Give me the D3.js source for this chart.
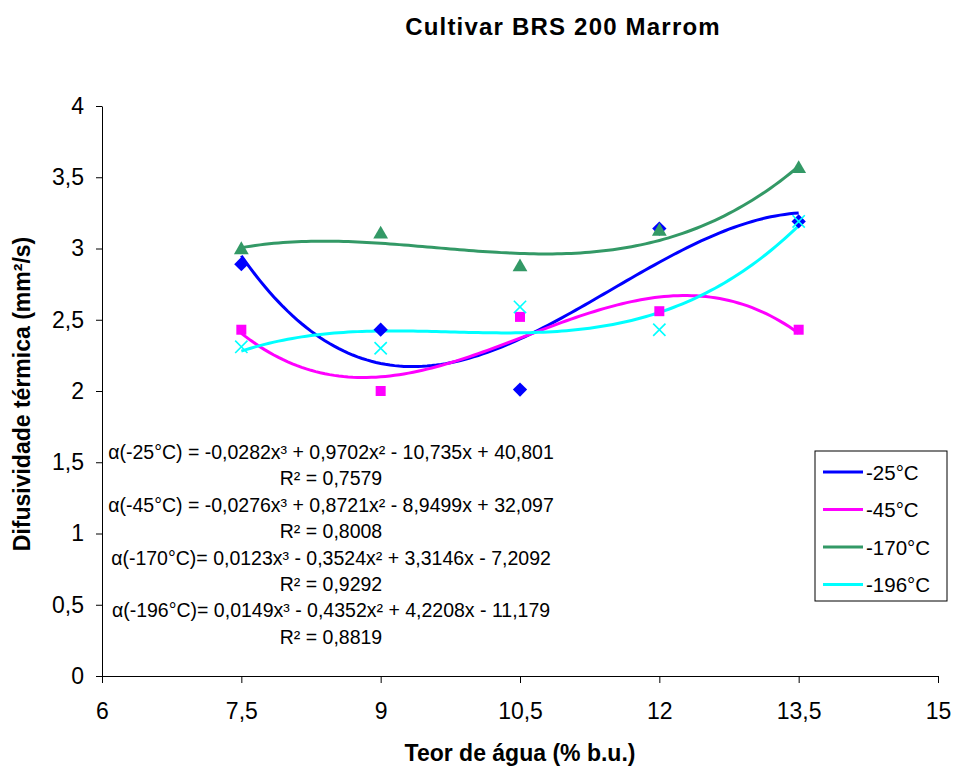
<!DOCTYPE html>
<html>
<head>
<meta charset="utf-8">
<script src="https://cdn.jsdelivr.net/npm/d3@7"></script>
<style>
  body { margin: 0; background: #fff; }
  text { font-family: "Liberation Sans", Arial, sans-serif; fill: #000; }
</style>
</head>
<body>
<div id="chart"></div>
<script>
var width = 953,
    height = 766;

// moisture content (% b.u.)
var teor = [7.5, 9, 10.5, 12, 13.5];

// thermal diffusivity readings per temperature
var serie25 = [2.89, 2.43, 2.01, 3.14, 3.19];
var serie45 = [2.43, 2.00, 2.52, 2.56, 2.43];
var serie170 = [2.99, 3.10, 2.87, 3.12, 3.56];
var serie196 = [2.31, 2.30, 2.59, 2.43, 3.19];

var nomes = ["-25°C", "-45°C", "-170°C", "-196°C"];
var xTicks = [6, 7.5, 9, 10.5, 12, 13.5, 15];
var yTicks = [0, 0.5, 1, 1.5, 2, 2.5, 3, 3.5, 4];

var equacoes = [
  "α(-25°C) = -0,0282x³ + 0,9702x² - 10,735x + 40,801", "R² = 0,7579",
  "α(-45°C) = -0,0276x³ + 0,8721x² - 8,9499x + 32,097", "R² = 0,8008",
  "α(-170°C)= 0,0123x³ - 0,3524x² + 3,3146x - 7,2092", "R² = 0,9292",
  "α(-196°C)= 0,0149x³ - 0,4352x² + 4,2208x - 11,179", "R² = 0,8819"
];

var series = [
  {nome: nomes[0], vals: serie25, cor: "#0000ff", sym: d3.symbolDiamond2, size: 130},
  {nome: nomes[1], vals: serie45, cor: "#ff00ff", sym: d3.symbolSquare, size: 100},
  {nome: nomes[2], vals: serie170, cor: "#339966", sym: d3.symbolTriangle, size: 95},
  {nome: nomes[3], vals: serie196, cor: "#00ffff", sym: d3.symbolX, size: 100}
];

var x = d3.scaleLinear().domain([6, 15]).range([102, 938]);
var y = d3.scaleLinear().domain([0, 4]).range([676, 106]);

var fmt = function(d) { return String(d).replace(".", ","); };

var svg = d3.select("#chart").append("svg")
  .attr("width", width)
  .attr("height", height);

// axes
svg.append("g")
  .attr("transform", "translate(0,676)")
  .call(d3.axisBottom(x).tickValues(xTicks).tickFormat(fmt).tickSize(7).tickSizeOuter(0).tickPadding(20))
  .call(function(g) {
    g.selectAll("text").style("font-size", "23px").attr("fill", "#000");
    g.selectAll("line, path").attr("stroke", "#000");
  });

svg.append("g")
  .attr("transform", "translate(102,0)")
  .call(d3.axisLeft(y).tickValues(yTicks).tickFormat(fmt).tickSize(6).tickSizeOuter(0).tickPadding(12))
  .call(function(g) {
    g.selectAll("text").style("font-size", "23px").attr("fill", "#000");
    g.selectAll("line, path").attr("stroke", "#000");
  });

// cubic least-squares trendline (same as the spreadsheet's polynomial fit)
function ajusteCubico(xv, yv) {
  var n = 4, A = [], i, j, k;
  for (i = 0; i < n; i++) {
    A.push([]);
    for (j = 0; j < n; j++) A[i].push(d3.sum(xv, function(v) { return Math.pow(v, i + j); }));
    A[i].push(d3.sum(xv, function(v, k2) { return Math.pow(v, i) * yv[k2]; }));
  }
  for (i = 0; i < n; i++) {
    var p = i;
    for (k = i + 1; k < n; k++) if (Math.abs(A[k][i]) > Math.abs(A[p][i])) p = k;
    var t = A[i]; A[i] = A[p]; A[p] = t;
    for (k = i + 1; k < n; k++) {
      var f = A[k][i] / A[i][i];
      for (j = i; j <= n; j++) A[k][j] -= f * A[i][j];
    }
  }
  var c = [0, 0, 0, 0];
  for (i = n - 1; i >= 0; i--) {
    var s = A[i][n];
    for (j = i + 1; j < n; j++) s -= A[i][j] * c[j];
    c[i] = s / A[i][i];
  }
  return function(v) { return c[0] + c[1]*v + c[2]*v*v + c[3]*v*v*v; };
}

var line = d3.line().x(function(d) { return x(d[0]); }).y(function(d) { return y(d[1]); });
var xs = d3.range(7.5, 13.5001, 0.05);

series.forEach(function(s) {
  var fit = ajusteCubico(teor, s.vals);
  svg.append("path")
    .attr("d", line(xs.map(function(v) { return [v, fit(v)]; })))
    .attr("fill", "none")
    .attr("stroke", s.cor)
    .attr("stroke-width", 3);
});

// points
series.forEach(function(s) {
  var sym = d3.symbol().type(s.sym).size(s.size);
  svg.append("g").selectAll("path")
    .data(s.vals)
    .join("path")
    .attr("transform", function(d, i) { return "translate(" + x(teor[i]) + "," + y(d) + ")"; })
    .attr("d", sym)
    .attr("fill", s.sym === d3.symbolX ? "none" : s.cor)
    .attr("stroke", s.sym === d3.symbolX ? s.cor : "none")
    .attr("stroke-width", 1.6);
});

// equations
svg.append("g").selectAll("text")
  .data(equacoes)
  .join("text")
  .attr("x", 331)
  .attr("y", function(d, i) { return 459 + i*26.4; })
  .attr("text-anchor", "middle")
  .style("font-size", "19.5px")
  .text(function(d) { return d; });

// legend
var leg = svg.append("g");
leg.append("rect")
  .attr("x", 815).attr("y", 451).attr("width", 132).attr("height", 150)
  .attr("fill", "#fff").attr("stroke", "#000").attr("stroke-width", 1);

series.forEach(function(s, i) {
  var ly = 472 + i*37.5;
  leg.append("line")
    .attr("x1", 823).attr("x2", 863).attr("y1", ly).attr("y2", ly)
    .attr("stroke", s.cor).attr("stroke-width", 3);
  leg.append("text")
    .attr("x", 866).attr("y", ly + 7.5)
    .style("font-size", "20.5px")
    .text(s.nome);
});

// titles
svg.append("text")
  .attr("x", 563).attr("y", 35)
  .attr("text-anchor", "middle")
  .style("font-size", "24px").style("font-weight", "bold")
  .style("letter-spacing", "1.2px")
  .text("Cultivar BRS 200 Marrom");

svg.append("text")
  .attr("x", 520).attr("y", 761)
  .attr("text-anchor", "middle")
  .style("font-size", "23px").style("font-weight", "bold")
  .text("Teor de água (% b.u.)");

svg.append("text")
  .attr("transform", "translate(30,394) rotate(-90)")
  .attr("text-anchor", "middle")
  .style("font-size", "23px").style("font-weight", "bold")
  .text("Difusividade térmica (mm²/s)");
</script>
</body>
</html>
